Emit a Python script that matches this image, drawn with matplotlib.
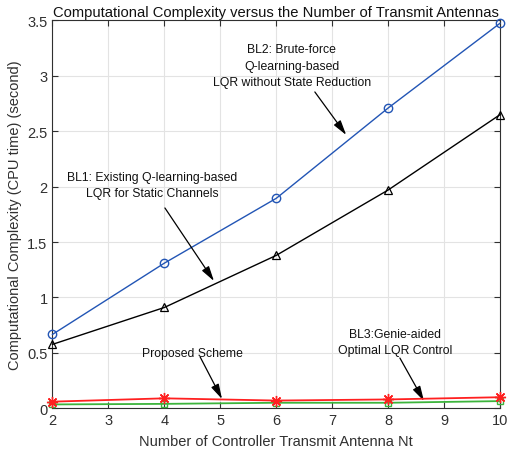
import matplotlib
matplotlib.use("Agg")
import matplotlib.pyplot as plt

plt.rcParams['font.family'] = ['Liberation Sans', 'DejaVu Sans']

nt = [2, 4, 6, 8, 10]
bl2 = [0.667, 1.31, 1.895, 2.71, 3.475]
bl1 = [0.577, 0.91, 1.38, 1.97, 2.65]
proposed = [0.06, 0.09, 0.07, 0.08, 0.10]
bl3 = [0.035, 0.04, 0.05, 0.05, 0.065]
yticks = [0, 0.5, 1, 1.5, 2, 2.5, 3, 3.5]
ytick_labels = ['0', '0.5', '1', '1.5', '2', '2.5', '3', '3.5']
xticks = [2, 3, 4, 5, 6, 7, 8, 9, 10]

fig = plt.figure(figsize=(5.08, 4.56), dpi=100)
ax = fig.add_axes([0.1033, 0.1024, 0.8810, 0.8505])

gray = '#303030'
ax.plot(nt, bl2, color='#2255b5', lw=1.0, marker='o', ms=6, mfc='none', mew=1.0, clip_on=False, zorder=3)
ax.plot(nt, bl1, color='black', lw=1.0, marker='^', ms=6, mfc='none', mew=0.9, clip_on=False, zorder=3)
ax.plot(nt, bl3, color='#3cb43c', lw=1.3, marker='s', ms=5, mfc='none', mew=1.0, clip_on=False, zorder=3)
ax.plot(nt, proposed, color='#ff2020', lw=1.3, marker=(8, 2, 0), ms=8, mew=1.0, clip_on=False, zorder=4)

ax.set_xlim(2, 10)
ax.set_ylim(0, 3.5)
ax.set_xticks(xticks)
ax.set_xticklabels([str(v) for v in xticks])
ax.set_yticks(yticks)
ax.set_yticklabels(ytick_labels)
ax.grid(True, color='#e3e3e3', lw=0.8)
ax.set_axisbelow(True)
ax.tick_params(direction='in', top=True, right=True, length=4, colors=gray, labelsize=10.5, labelcolor=gray)
for s in ax.spines.values():
    s.set_color(gray)
    s.set_linewidth(0.8)

ax.set_xlabel('Number of Controller Transmit Antenna Nt', fontsize=10.5, color=gray, labelpad=5)
ax.set_ylabel('Computational Complexity (CPU time) (second)', fontsize=10.5, color=gray, labelpad=4)
ax.set_title('Computational Complexity versus the Number of Transmit Antennas', fontsize=10.6, color='#111111', pad=3)

tfs = 8.8
ax.text(6.28, 3.09, 'BL2: Brute-force\nQ-learning-based\nLQR without State Reduction',
        ha='center', va='center', fontsize=tfs, linespacing=1.5, color='#111111')
ax.text(3.78, 2.013, 'BL1: Existing Q-learning-based\nLQR for Static Channels',
        ha='center', va='center', fontsize=tfs, linespacing=1.5, color='#111111')
ax.text(4.51, 0.499, 'Proposed Scheme', ha='center', va='center', fontsize=tfs, color='#111111')
ax.text(8.12, 0.599, 'BL3:Genie-aided\nOptimal LQR Control',
        ha='center', va='center', fontsize=tfs, linespacing=1.5, color='#111111')

arrows = [((6.69, 2.855), (7.25, 2.467)),
          ((4.01, 1.808), (4.886, 1.149)),
          ((4.64, 0.463), (5.03, 0.084)),
          ((8.21, 0.454), (8.64, 0.066))]
for tail, head in arrows:
    ax.annotate('', xy=head, xytext=tail,
                arrowprops=dict(arrowstyle='-|>,head_length=0.9,head_width=0.25', color='black', lw=0.9,
                                shrinkA=0, shrinkB=0))

fig.savefig('out.png', dpi=100)
